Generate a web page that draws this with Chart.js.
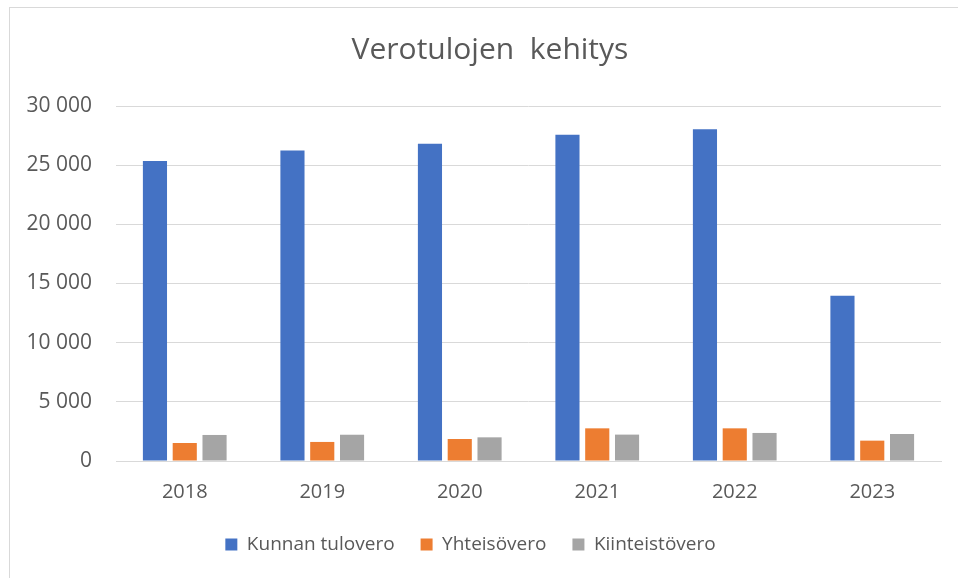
<!DOCTYPE html>
<html>
<head>
<meta charset="utf-8">
<script src="https://cdn.jsdelivr.net/npm/chart.js@4"></script>
<style>
	html, body { margin: 0; padding: 0; background: #fff; }
	#wrap { position: relative; width: 958px; height: 578px; overflow: hidden; }
	#frame { position: absolute; left: 9px; top: 7px; width: 970px; height: 590px; border: 1px solid #d9d9d9; }
	#myChart { position: absolute; left: 0; top: 0; }
</style>
</head>
<body>
<div id="wrap">
	<div id="frame"></div>
	<canvas id="myChart" width="958" height="578"></canvas>
</div>
<script>
const years = ['2018', '2019', '2020', '2021', '2022', '2023'];
const kunnanTulovero = [25350, 26230, 26820, 27580, 28030, 13960];
const yhteisovero = [1520, 1610, 1860, 2760, 2760, 1720];
const kiinteistovero = [2200, 2220, 2000, 2230, 2370, 2280];
const yTicks = [0, 5000, 10000, 15000, 20000, 25000, 30000];
const chartTitle = 'Verotulojen  kehitys';

const fontFamily = '"Open Sans", "Noto Sans", sans-serif';
const textColor = '#595959';

function formatThousands(v) {
	return String(v).replace(/\B(?=(\d{3})+(?!\d))/g, ' ');
}

// title is centred on the whole frame (not the layout box), so draw it here
const titlePlugin = {
	id: 'frameTitle',
	afterDraw(chart) {
		const c = chart.ctx;
		c.save();
		c.font = '30px ' + fontFamily;
		c.fillStyle = textColor;
		c.textAlign = 'center';
		c.textBaseline = 'alphabetic';
		c.fillText(chartTitle, 490, 59);
		c.restore();
	}
};

const ctx = document.getElementById('myChart');

new Chart(ctx, {
	type: 'bar',
	data: {
		labels: years,
		datasets: [
			{ label: 'Kunnan tulovero', data: kunnanTulovero, backgroundColor: '#4472C4' },
			{ label: 'Yhteisövero', data: yhteisovero, backgroundColor: '#ED7D31' },
			{ label: 'Kiinteistövero', data: kiinteistovero, backgroundColor: '#A5A5A5' }
		]
	},
	plugins: [titlePlugin],
	options: {
		responsive: false,
		animation: false,
		datasets: {
			bar: { categoryPercentage: 0.65, barPercentage: 0.81 }
		},
		layout: { padding: { left: 0, right: 17, top: 106, bottom: 14 } },
		plugins: {
			title: { display: false },
			legend: {
				position: 'bottom',
				labels: {
					color: textColor,
					font: { family: fontFamily, size: 19 },
					boxWidth: 12,
					boxHeight: 12,
					padding: 26
				}
			},
			tooltip: { enabled: false }
		},
		scales: {
			x: {
				afterFit: function (scale) { scale.height -= 14; },
				grid: { display: false, drawTicks: false },
				border: { color: '#d9d9d9' },
				ticks: {
					color: textColor,
					font: { family: fontFamily, size: 20 },
					padding: 19
				}
			},
			y: {
				min: 0,
				max: 30000,
				afterFit: function (scale) { scale.width = 116; },
				afterBuildTicks: function (scale) {
					scale.ticks = yTicks.map(v => ({ value: v }));
				},
				grid: { color: '#d9d9d9', drawTicks: false },
				border: { display: false },
				ticks: {
					color: textColor,
					font: { family: fontFamily, size: 21 },
					padding: 24,
					callback: v => formatThousands(v)
				}
			}
		}
	}
});
</script>
</body>
</html>
